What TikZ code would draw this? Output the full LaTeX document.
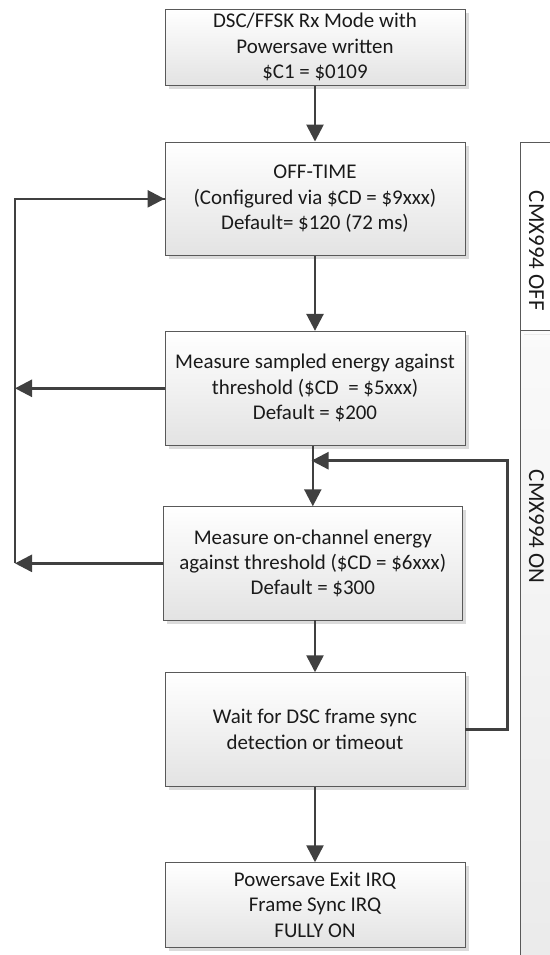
\documentclass[tikz,border=0pt]{standalone}
\usepackage{fontspec}
\setmainfont{Carlito}
\usetikzlibrary{arrows.meta,calc,shadows}
\definecolor{lnc}{HTML}{404040}
\definecolor{bdr}{HTML}{595959}
\definecolor{txt}{HTML}{1A1A1A}
\tikzset{
  box/.style={draw=bdr, line width=0.9bp, top color=white, bottom color=black!11,
    minimum width=300bp, align=center, inner sep=0pt,
    font=\fontsize{21}{25.5}\selectfont, text=txt,
    drop shadow={shadow xshift=3.5bp, shadow yshift=-3.5bp, fill=black!14, opacity=1}},
  arr/.style={draw=lnc, line width=2.6bp, -{Triangle[length=17bp,width=17bp]}},
  ln/.style={draw=lnc, line width=2.6bp},
  coltext/.style={rotate=-90, font=\fontsize{23}{23}\selectfont, text=txt},
}
\begin{document}
\begin{tikzpicture}[x=1bp,y=-1bp]
\useasboundingbox (0,0) rectangle (550,955);
% side column
\shade[top color=black!2, bottom color=black!8] (520,330) rectangle (560,960);
\fill[white] (520,142) rectangle (560,330);
\draw[bdr, line width=0.9bp] (560,142) -- (520,142) -- (520,960);
\draw[bdr, line width=0.9bp] (520,330) -- (560,330);
\draw[black!8, line width=1bp] (524,334) -- (560,334);
\node[coltext] (off) at (536.5,250.8) {CMX994 OFF};
\node[coltext] (on) at (536.5,526.7) {CMX994 ON};
% boxes
\node[box, minimum height=76bp] (b1) at (315,47.3)
  {DSC/FFSK Rx Mode with\\Powersave written\\\$C1 = \$0109};
\node[box, minimum height=113.7bp] (b2) at (315,198.85)
  {OFF-TIME\\(Configured via \$CD = \$9xxx)\\Default= \$120 (72 ms)};
\node[box, minimum height=114bp] (b3) at (315,388.3)
  {Measure sampled energy against\\threshold (\$CD\ \ = \$5xxx)\\Default = \$200};
\node[box, minimum height=113.3bp, minimum width=299.6bp] (b4) at (312.8,563.35)
  {Measure on-channel energy\\against threshold (\$CD = \$6xxx)\\Default = \$300};
\node[box, minimum height=113.6bp] (b5) at (315,729.5)
  {Wait for DSC frame sync\\detection or timeout};
\node[box, minimum height=84.3bp] (b6) at (315,904.85)
  {Powersave Exit IRQ\\Frame Sync IRQ\\FULLY ON};
% main flow
\draw[arr] (b1.south) -- (b2.north);
\draw[arr] (b2.south) -- (b3.north);
\draw[arr] (b4.north |- b3.south) -- (b4.north);
\draw[arr] (b5.north |- b4.south) -- (b5.north);
\draw[arr] (b5.south) -- (b6.north);
% left loop
\coordinate (lt) at (15,198.85);
\coordinate (lb) at (15,563.35);
\draw[ln, line join=miter] (lb) -- (lt) -- (b2.west);
\draw[arr] (lt) -- (b2.west);
\draw[arr] (b3.west) -- (b3.west -| lt);
\draw[arr] (b4.west) -- (lb);
% right loop
\coordinate (rt) at (507.5,460.7);
\draw[ln, line join=miter] (b5.east) -| (rt) -- (rt -| b4.north);
\draw[arr, shorten >=-1.3bp] (rt) -- (rt -| b4.north);
\end{tikzpicture}
\end{document}
